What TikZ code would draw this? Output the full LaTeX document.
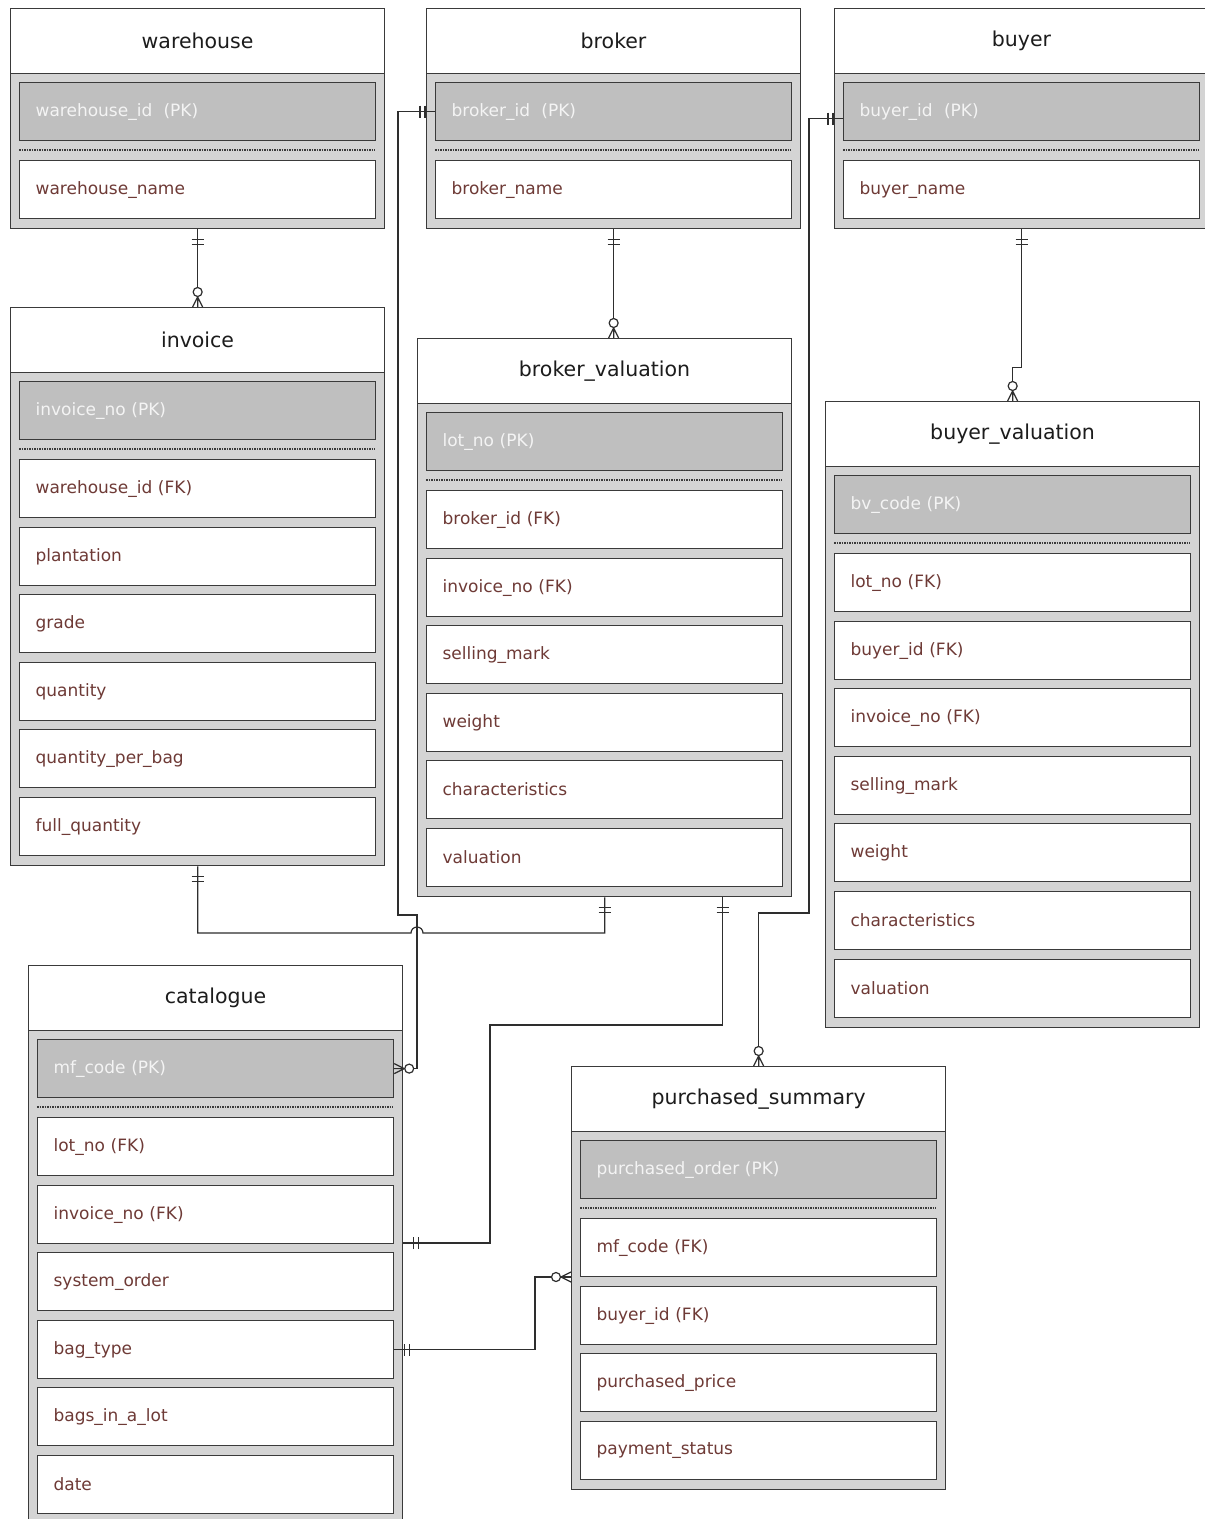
\documentclass[tikz,border=0pt]{standalone}
\usepackage{fontspec}
\setmainfont{DejaVu Sans}
\usetikzlibrary{calc}

\definecolor{bodygray}{HTML}{D4D4D4}
\definecolor{pkgray}{HTML}{BFBFBF}
\definecolor{edge}{HTML}{3A3A3A}
\definecolor{fktext}{HTML}{6E3A36}
\definecolor{pktext}{HTML}{F4F4F4}
\definecolor{titletext}{HTML}{1C1C1C}
\definecolor{wire}{HTML}{2E2E2E}

\tikzset{
  tbl/.style={draw=edge, line width=1.3pt, fill=bodygray, inner sep=0pt,
    anchor=north west, minimum width=374pt},
  ttl/.style={draw=edge, line width=1.1pt, fill=white, anchor=north west,
    minimum width=374pt, minimum height=65pt, inner sep=0pt,
    font=\fontsize{20.5}{24}\selectfont, text=titletext},
  rowbase/.style={draw=edge, line width=1.2pt, anchor=north west,
    minimum height=58pt, inner xsep=16pt, inner ysep=0pt,
    text width=324pt, align=left, font=\fontsize{17}{20}\selectfont},
  pkrow/.style={rowbase, fill=pkgray, text=pktext},
  fkrow/.style={rowbase, fill=white, text=fktext},
  sep/.style={draw=edge, line width=1.4pt, dash pattern=on 1.6pt off 0.9pt},
  wire/.style={draw=wire, line width=1.2pt},
}

% entity table: id, x, top, title, key, number of rows, rows
\newcommand\ertable[7]{%
  \pgfmathsetmacro\tblh{int(round(220+67.6*(#6-1)))}
  \node[tbl, minimum height=\tblh pt] (#1) at (#2,#3) {};
  \node[ttl] (#1-t) at (#2,#3) {#4};
  \node[pkrow] (#1-pk) at (#2+9,#3+74) {#5};
  \draw[sep] (#2+9,#3+142) -- (#2+365,#3+142);
  \foreach \r [count=\i] in {#7} {
    \pgfmathsetmacro\rowtop{int(round(#3+152+67.6*(\i-1)))}
    \node[fkrow] (#1-\i) at (#2+9,\rowtop) {\r};
  }
}

% "exactly one" bars; #2 = direction towards the entity
\newcommand\mone[2]{%
  \begin{scope}[shift={#1}, rotate=#2]
    \draw[wire] (-10,-6) -- (-10,6) (-15,-6) -- (-15,6);
  \end{scope}}

% "zero or many" circle and crow's foot; #2 = direction towards the entity
\newcommand\mmany[2]{%
  \begin{scope}[shift={#1}, rotate=#2]
    \draw[wire] (-10,0) -- (0,-5) (-10,0) -- (0,0) (-10,0) -- (0,5);
    \draw[wire, fill=white] (-15,0) circle (4.5);
  \end{scope}}

\begin{document}
\begin{tikzpicture}[x=1pt, y=-1pt]
\useasboundingbox (0,0) rectangle (1205,1519);
\clip (0,0) rectangle (1205,1519);
\fill[white] (0,0) rectangle (1205,1519);

\ertable{wh}{10}{8}{warehouse}{warehouse\_id~ (PK)}{1}{warehouse\_name}
\ertable{br}{426}{8}{broker}{broker\_id~ (PK)}{1}{broker\_name}
\ertable{bu}{834}{8}{buyer}{buyer\_id~ (PK)}{1}{buyer\_name}
\ertable{inv}{10}{307}{invoice}{invoice\_no (PK)}{6}{warehouse\_id (FK),plantation,grade,quantity,quantity\_per\_bag,full\_quantity}
\ertable{bv}{417}{338}{broker\_valuation}{lot\_no (PK)}{6}{broker\_id (FK),invoice\_no (FK),selling\_mark,weight,characteristics,valuation}
\ertable{buv}{825}{401}{buyer\_valuation}{bv\_code (PK)}{7}{lot\_no (FK),buyer\_id (FK),invoice\_no (FK),selling\_mark,weight,characteristics,valuation}
\ertable{cat}{28}{965}{catalogue}{mf\_code (PK)}{6}{lot\_no (FK),invoice\_no (FK),system\_order,bag\_type,bags\_in\_a\_lot,date}
\ertable{ps}{571}{1066}{purchased\_summary}{purchased\_order (PK)}{4}{mf\_code (FK),buyer\_id (FK),purchased\_price,payment\_status}

% warehouse -- invoice
\draw[wire] (wh.south) -- (inv.north);
\mone{(wh.south)}{90}
\mmany{(inv.north)}{-90}

% broker -- broker_valuation
\coordinate (bvin) at (br.south |- bv.north);
\draw[wire] (br.south) -- (bvin);
\mone{(br.south)}{90}
\mmany{(bvin)}{-90}

% buyer -- buyer_valuation
\coordinate (bu1) at ($(bu.south)+(0,138)$);
\draw[wire] (bu.south) -- (bu1) -| (buv.north);
\mone{(bu.south)}{90}
\mmany{(buv.north)}{-90}

% broker -- catalogue
\coordinate (j1) at (398,915);
\coordinate (j2) at (417,915);
\draw[wire] (br-pk.west) -| (j1) -- (j2) |- (cat-pk.east);
\mone{(br-pk.west)}{0}
\mmany{(cat-pk.east)}{180}

% invoice -- broker_valuation, hopping over the broker line
\coordinate (h1) at (411,933);
\coordinate (h2) at (423,933);
\draw[wire] (inv.south) |- (h1) arc[start angle=180, end angle=360, radius=6]
  -- (bv.south |- h2) -- (bv.south);
\mone{(inv.south)}{90}
\mone{(bv.south)}{90}

% broker_valuation -- catalogue
\coordinate (k0) at ($(bv.south)+(118,0)$);
\coordinate (k1) at (k0 |- 0,1025);
\coordinate (k2) at (490,1025);
\coordinate (k3) at (490,1243);
\coordinate (kend) at (cat.east |- k3);
\draw[wire] (k0) -- (k1) -- (k2) -- (k3) -- (kend);
\mone{(k0)}{90}
\mone{(kend)}{180}

% buyer -- purchased_summary
\coordinate (m0) at ($(bu-pk.west)+(0,7)$);
\coordinate (m1) at (809,913);
\draw[wire] (m0) -| (m1) -| (ps.north);
\mone{(m0)}{0}
\mmany{(ps.north)}{-90}

% catalogue -- purchased_summary
\coordinate (n1) at (535,1277);
\coordinate (nend) at (ps.west |- n1);
\draw[wire] (cat-4.east) -| (n1) -- (nend);
\mone{(cat-4.east)}{180}
\mmany{(nend)}{0}
\end{tikzpicture}
\end{document}
